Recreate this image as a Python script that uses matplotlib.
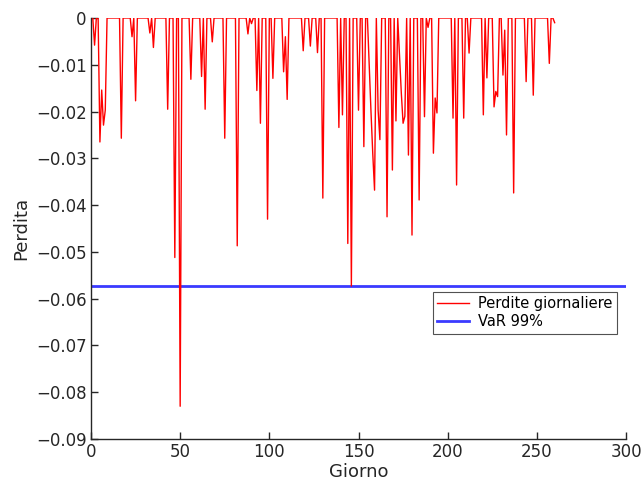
import numpy as np
import matplotlib
matplotlib.use("Agg")
import matplotlib.pyplot as plt

# ---- data ----
n_days = 260
loss_days = [2, 5, 6, 7, 8, 17, 23, 25, 33, 35, 43, 47, 50, 56, 62, 64, 68, 75, 82,
             88, 90, 93, 95, 99, 102, 108, 109, 110, 119, 123, 127, 130, 139, 141,
             144, 146, 150, 153, 156, 157, 158, 159, 161, 162, 166, 169, 171, 173,
             174, 175, 176, 178, 180, 184, 187, 189, 192, 193, 194, 203, 205, 209,
             212, 220, 222, 226, 227, 228, 231, 232, 233, 237, 244, 248, 257, 260]
loss_values = [-0.0058, -0.0265, -0.0154, -0.0229, -0.0197, -0.0257, -0.0040, -0.0177,
               -0.0032, -0.0063, -0.0195, -0.0512, -0.0830, -0.0131, -0.0125, -0.0195,
               -0.0051, -0.0257, -0.0487, -0.0034, -0.0012, -0.0155, -0.0225, -0.0430,
               -0.0129, -0.0115, -0.0040, -0.0174, -0.0070, -0.0060, -0.0074, -0.0385,
               -0.0234, -0.0207, -0.0482, -0.0573, -0.0197, -0.0275, -0.0100, -0.0200,
               -0.0290, -0.0368, -0.0197, -0.0260, -0.0425, -0.0325, -0.0220, -0.0080,
               -0.0160, -0.0225, -0.0210, -0.0293, -0.0464, -0.0389, -0.0211, -0.0020,
               -0.0289, -0.0171, -0.0203, -0.0214, -0.0357, -0.0214, -0.0075, -0.0207,
               -0.0128, -0.0190, -0.0157, -0.0168, -0.0122, -0.0026, -0.0250, -0.0374,
               -0.0136, -0.0165, -0.0097, -0.0010]
var_99 = -0.0573

y_ticks = [-0.09, -0.08, -0.07, -0.06, -0.05, -0.04, -0.03, -0.02, -0.01, 0]
y_ticklabels = ['\u22120.09', '\u22120.08', '\u22120.07', '\u22120.06', '\u22120.05',
                '\u22120.04', '\u22120.03', '\u22120.02', '\u22120.01', '0']
x_ticks = [0, 50, 100, 150, 200, 250, 300]

# daily loss series: zero on days without a loss
days = np.arange(1, n_days + 1)
losses = np.zeros(n_days)
for d, v in zip(loss_days, loss_values):
    losses[d - 1] = v

plt.rcParams['font.family'] = ['DejaVu Sans']
fig = plt.figure(figsize=(6.41, 4.90), dpi=100)
ax = fig.add_axes([91 / 641, 1 - 439 / 490, (626 - 91) / 641, (439 - 18) / 490])

ax.plot(days, losses, color='#ff0000', lw=1.0, label='Perdite giornaliere', zorder=3)
ax.axhline(var_99, color='#3a3aff', lw=2.0, label='VaR 99%', zorder=2)

ax.set_xlim(0, 300)
ax.set_ylim(-0.09, 0)
ax.set_xticks(x_ticks)
ax.set_yticks(y_ticks)
ax.set_yticklabels(y_ticklabels)

for s in ['top', 'right']:
    ax.spines[s].set_visible(False)
for s in ['left', 'bottom']:
    ax.spines[s].set_color('#262626')
    ax.spines[s].set_linewidth(1.0)
ax.tick_params(direction='in', length=5, width=1.0, colors='#262626',
               labelsize=12, labelcolor='#262626', pad=3)

ax.set_xlabel('Giorno', fontsize=13, color='#262626', labelpad=1)
ax.set_ylabel('Perdita', fontsize=13, color='#262626', labelpad=4)

leg = ax.legend(loc='upper right', bbox_to_anchor=((617 - 91) / 535, (439 - 292) / 421),
                fontsize=10.5, frameon=True, fancybox=False, borderpad=0.3,
                handlelength=2.2, handletextpad=0.6, labelspacing=0.2,
                borderaxespad=0)
leg.get_frame().set_edgecolor('#262626')
leg.get_frame().set_linewidth(0.8)

fig.savefig('out.png', dpi=100)
